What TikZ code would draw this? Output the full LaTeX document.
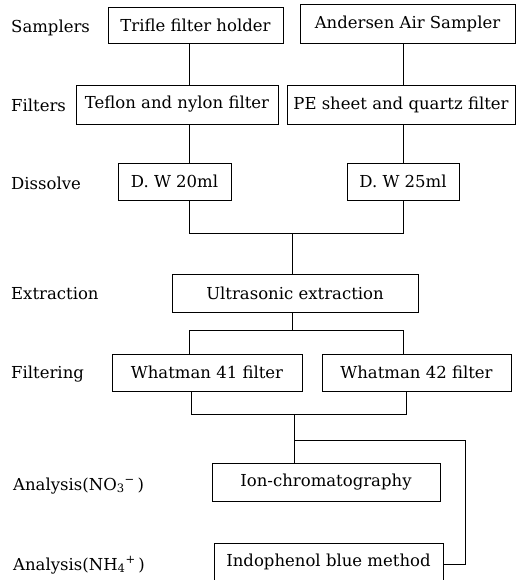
\documentclass[tikz,border=0pt]{standalone}
\usepackage{fontspec}
\setmainfont{DejaVu Serif}
\begin{document}
\begin{tikzpicture}[x=1pt, y=-1pt, font=\fontsize{16.5}{19}\selectfont,
    box/.style={draw, line width=0.8pt, inner sep=0pt},
    lbl/.style={anchor=base west, inner sep=0pt},
    link/.style={line width=0.8pt}]
    \useasboundingbox (0,0) rectangle (525,580);
    \coordinate (lc) at (189,0);
    \coordinate (rc) at (403,0);
    \node[lbl] (samplers) at (11,33) {Samplers};
    \node[lbl] (filters) at (11,112) {Filters};
    \node[lbl] (dissolve) at (11,189) {Dissolve};
    \node[lbl] (extraction) at (11,299) {Extraction};
    \node[lbl] (filtering) at (11,378) {Filtering};
    \node[lbl] (ananitrate) at (13,490) {Analysis(NO\textsubscript{3}\textsuperscript{−}\,)};
    \node[lbl] (anaammon) at (13,570) {Analysis(NH\textsubscript{4}\textsuperscript{+}\,)};
    \node[box, minimum width=175, minimum height=36] (trifle) at (195.5,25) {Trifle filter holder};
    \node[box, minimum width=215, minimum height=39] (andersen) at (407.5,23.5) {Andersen Air Sampler};
    \node[box, minimum width=202, minimum height=39] (teflon) at (177,104.5) {Teflon and nylon filter};
    \node[box, minimum width=228, minimum height=39] (pesheet) at (401,104.5) {PE sheet and quartz filter};
    \node[box, minimum width=113, minimum height=37] (dwtwenty) at (174.5,181.5) {D. W 20ml};
    \node[box, minimum width=112, minimum height=37] (dwtwentyfive) at (403,181.5) {D. W 25ml};
    \node[box, minimum width=246, minimum height=38] (ultra) at (295,293) {Ultrasonic extraction};
    \node[box, minimum width=190, minimum height=37] (whatfortyone) at (207,372.5) {Whatman 41 filter};
    \node[box, minimum width=189, minimum height=37] (whatfortytwo) at (416.5,372.5) {Whatman 42 filter};
    \node[box, minimum width=228, minimum height=38] (ionchrom) at (326,482) {Ion-chromatography};
    \node[box, minimum width=229, minimum height=38] (indophenol) at (328.5,562) {Indophenol blue method};
    \draw[link] (trifle.south -| lc) -- (teflon.north -| lc);
    \draw[link] (andersen.south -| rc) -- (pesheet.north -| rc);
    \draw[link] (teflon.south -| lc) -- (dwtwenty.north -| lc);
    \draw[link] (pesheet.south -| rc) -- (dwtwentyfive.north -| rc);
    \draw[link] (dwtwenty.south -| lc) -- ++(0,33) -| (dwtwentyfive.south -| rc);
    \draw[link] (ultra.north -| 292,0) -- ++(0,-41);
    \draw[link] (ultra.south -| 292,0) -- ++(0,18) coordinate (split);
    \draw[link] (whatfortyone.north -| lc) |- (split) -| (whatfortytwo.north -| rc);
    \draw[link] (whatfortyone.south -| 191,0) -- ++(0,23) -| (whatfortytwo.south -| 406,0);
    \draw[link] (ionchrom.north -| 294,0) -- ++(0,-49);
    \draw[link] (ionchrom.north -| 294,0) ++(0,-22) -| (465,564) -- (indophenol.east |- 0,564);
\end{tikzpicture}
\end{document}
